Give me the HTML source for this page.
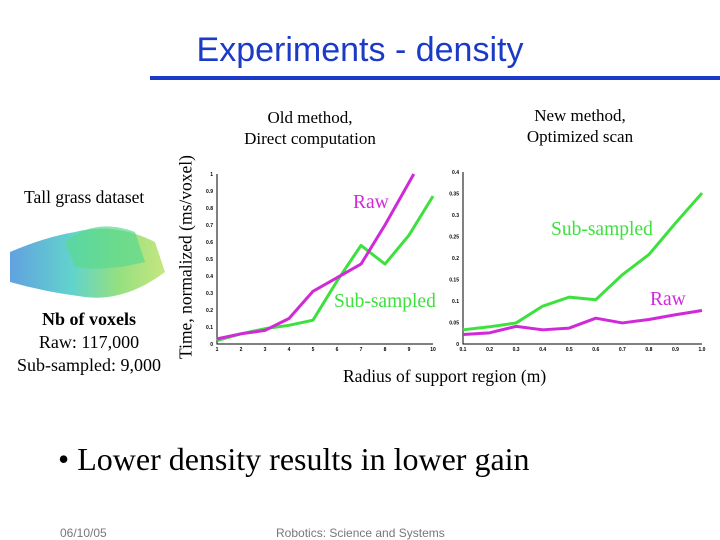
<!DOCTYPE html>
<html><head><meta charset="utf-8"><style>
body{margin:0;width:720px;height:540px;background:#fff;position:relative;overflow:hidden;font-family:"Liberation Serif",serif}
.a{position:absolute;white-space:nowrap}
</style></head><body>
<div class="a" style="left:0;width:720px;top:31px;text-align:center;font:34px 'Liberation Sans',sans-serif;color:#1a3ac8">Experiments - density</div>
<div class="a" style="left:150px;top:76px;width:570px;height:4px;background:#1a3ac8"></div>
<div class="a" style="left:220px;top:107px;width:180px;text-align:center;font-size:17px;line-height:21px">Old method,<br>Direct computation</div>
<div class="a" style="left:490px;top:105px;width:180px;text-align:center;font-size:17px;line-height:21px">New method,<br>Optimized scan</div>
<div class="a" style="left:24px;top:187px;font-size:17.5px">Tall grass dataset</div>
<svg class="a" style="left:5px;top:212px" width="165" height="95">
<defs><linearGradient id="g" x1="0" x2="1"><stop offset="0" stop-color="#3a8ad8"/><stop offset=".4" stop-color="#3ac8c0"/><stop offset=".7" stop-color="#7ad860"/><stop offset="1" stop-color="#b8e060"/></linearGradient></defs>
<path d="M5 40 Q40 25 70 20 Q110 10 150 30 L160 60 Q120 90 80 85 Q40 80 5 70 Z" fill="url(#g)" opacity=".8"/>
<path d="M60 30 Q90 5 130 20 L140 50 Q100 60 70 55Z" fill="#5ad890" opacity=".7"/>
</svg>
<div class="a" style="left:0;width:178px;top:308px;text-align:center;font-size:18px;line-height:23px"><b>Nb of voxels</b><br>Raw: 117,000<br>Sub-sampled: 9,000</div>
<div class="a" style="left:186px;top:257px;transform:translate(-50%,-50%) rotate(-90deg);font-size:17.5px">Time, normalized (ms/voxel)</div>
<div class="a" style="left:343px;top:366px;font-size:17.5px">Radius of support region (m)</div>
<svg class="a" id="chart" style="left:0;top:0" width="720" height="540"></svg>
<div class="a" style="left:58px;top:441px;font-size:32px">• Lower density results in lower gain</div>
<div class="a" style="left:60px;top:526px;font:12px 'Liberation Sans',sans-serif;color:#777">06/10/05</div>
<div class="a" style="left:276px;top:526px;font:12px 'Liberation Sans',sans-serif;color:#777">Robotics: Science and Systems</div>
<script>
const leftX=[1,2,3,4,5,6,7,8,9,10];
const leftRawX=[1,2,3,4,5,6,7,8,9.2];
const leftRaw=[0.03,0.06,0.08,0.15,0.31,0.39,0.47,0.70,1.0];
const leftSub=[0.02,0.06,0.09,0.11,0.14,0.37,0.58,0.47,0.64,0.87];
const leftYTicks=[0,0.1,0.2,0.3,0.4,0.5,0.6,0.7,0.8,0.9,1];
const rightX=[0.1,0.2,0.3,0.4,0.5,0.6,0.7,0.8,0.9,1];
const rightRaw=[0.022,0.026,0.041,0.033,0.037,0.06,0.049,0.057,0.068,0.078];
const rightSub=[0.033,0.04,0.049,0.088,0.109,0.103,0.161,0.208,0.281,0.351];
const rightYTicks=[0,0.05,0.1,0.15,0.2,0.25,0.3,0.35,0.4];
const svg=document.getElementById('chart');
const NS='http://www.w3.org/2000/svg';
function mk(t,a){const e=document.createElementNS(NS,t);for(const k in a)e.setAttribute(k,a[k]);svg.appendChild(e);return e;}
function chart(prefix,x0,x1,y0,y1,xmin,xmax,ymax,xt,yt,dec){
  const sx=v=>x0+(v-xmin)/(xmax-xmin)*(x1-x0);
  const sy=v=>y0-(v/ymax)*(y0-y1);
  const ax=mk('path',{d:`M${x0} ${y1}V${y0}H${x1}`,stroke:'#000',fill:'none','stroke-width':1});
  
  
  yt.forEach(v=>{const t=mk('text',{x:x0-4,y:sy(v)+2,'font-size':5,'font-weight':'bold','text-anchor':'end','font-family':'Liberation Sans'});t.textContent=String(v);
    
    });
  xt.forEach(v=>{const t=mk('text',{x:sx(v),y:y0+7,'font-size':5,'font-weight':'bold','text-anchor':'middle','font-family':'Liberation Sans'});t.textContent=dec?v.toFixed(1):String(v);
    
    });
  return {sx,sy};
}
function line(s,xs,ys,col,name){
  const p=mk('polyline',{points:xs.map((x,i)=>s.sx(x)+','+s.sy(ys[i])).join(' '),fill:'none',stroke:col,'stroke-width':3,'stroke-linejoin':'round'});
  
  
}
const L=chart('left',217,433,344,174,1,10,1,leftX,leftYTicks,false);
line(L,leftX,leftSub,'#3ee03e','left-subsampled-line');
line(L,leftRawX,leftRaw,'#d02ad8','left-raw-line');
const R=chart('right',463,702,344,172,0.1,1,0.4,rightX,rightYTicks,true);
line(R,rightX,rightSub,'#3ee03e','right-subsampled-line');
line(R,rightX,rightRaw,'#d02ad8','right-raw-line');
function lab(x,y,txt,col,name){const t=mk('text',{x,y,'font-size':19.5,fill:col,'font-family':'Liberation Serif'});t.textContent=txt;
  
  }
lab(353,208,'Raw','#d02ad8','left-raw-label');
lab(334,307,'Sub-sampled','#3ee03e','left-sub-label');
lab(551,235,'Sub-sampled','#3ee03e','right-sub-label');
lab(650,305,'Raw','#d02ad8','right-raw-label');
</script>
</body></html>
